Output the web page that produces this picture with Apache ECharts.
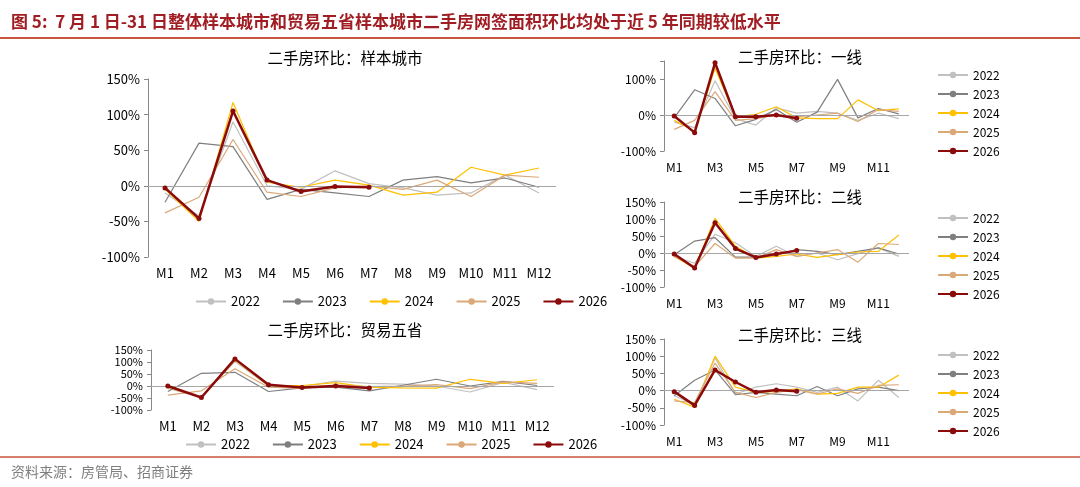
<!DOCTYPE html>
<html><head><meta charset="utf-8">
<script src="https://cdn.jsdelivr.net/npm/echarts@6/dist/echarts.min.js"></script>
<style>html,body{margin:0;padding:0;background:#fff}#c{width:1080px;height:487px}</style>
</head><body><div id="c"></div>
<script>
const months = ['M1','M2','M3','M4','M5','M6','M7','M8','M9','M10','M11','M12'];
const years = ['2022','2023','2024','2025','2026'];

// 样本城市
const cityY2022 = [-10,-42,90,0,-5,21,3,-3,-13,-10,15,-10];
const cityY2023 = [-23,60,55,-19,-5,-10,-15,8,13,4,11,-2];
const cityY2024 = [-5,-50,117,5,-2,8,1,-13,-9,26,15,25];
const cityY2025 = [-38,-16,65,-9,-15,-3,0,-5,8,-15,15,12];
const cityY2026 = [-3,-46,105,8,-8,-1,-2];
// 贸易五省
const tradeY2022 = [-10,-45,102,0,-2,20,11,8,0,-25,15,-15];
const tradeY2023 = [-23,53,57,-23,-8,-5,-20,3,28,0,19,2];
const tradeY2024 = [-5,-48,108,2,2,14,-6,-8,-9,28,11,26];
const tradeY2025 = [-38,-20,72,-5,-10,5,-3,0,6,-11,17,11];
const tradeY2026 = [0,-48,113,5,-6,0,-8];
// 一线
const t1Y2022 = [-20,-35,95,-10,-28,20,5,10,5,-15,5,-10];
const t1Y2023 = [-8,70,46,-30,-12,15,-20,8,99,-8,18,3];
const t1Y2024 = [-15,-45,130,-5,2,23,-8,-10,-10,42,12,17];
const t1Y2025 = [-40,-15,65,-15,-10,0,-5,0,5,-18,15,10];
const t1Y2026 = [-3,-49,145,-5,-5,0,-9];
// 二线
const t2Y2022 = [-10,-30,55,30,-10,20,-10,0,-20,-2,15,-10];
const t2Y2023 = [-5,35,45,-12,-12,-5,10,5,-5,5,15,-3];
const t2Y2024 = [-10,-45,102,20,-15,-10,-3,-13,-5,3,5,53];
const t2Y2025 = [-10,-40,28,-15,-15,10,-10,0,10,-27,28,25];
const t2Y2026 = [-3,-44,89,13,-13,-3,7];
// 三线
const t3Y2022 = [-15,-40,95,-10,10,20,10,-5,10,-30,30,-20];
const t3Y2023 = [-15,30,60,-12,-5,-10,-15,12,-15,5,10,0];
const t3Y2024 = [-25,-48,100,10,-5,-2,5,-10,-8,10,10,45];
const t3Y2025 = [-30,-35,80,-5,-20,-5,3,-10,5,-8,15,17];
const t3Y2026 = [-3,-43,60,25,-5,2,-2];

const colors = {'2022':'#c0c0c0','2023':'#7f7f7f','2024':'#ffc000','2025':'#dba878','2026':'#8b0a0a'};
const font = '"Noto Sans CJK SC", sans-serif';

const panels = [
	{title:'二手房环比：样本城市', data:[cityY2022,cityY2023,cityY2024,cityY2025,cityY2026],
	 grid:{left:148,top:79,width:408,height:178}, interval:50, tx:340, ty:45, labelEvery:0, fs:13},
	{title:'二手房环比：贸易五省', data:[tradeY2022,tradeY2023,tradeY2024,tradeY2025,tradeY2026],
	 grid:{left:151,top:350,width:403,height:60}, interval:50, tx:340, ty:317, labelEvery:0, fs:13, yfs:11},
	{title:'二手房环比：一线', data:[t1Y2022,t1Y2023,t1Y2024,t1Y2025,t1Y2026],
	 grid:{left:664,top:61,width:245,height:90}, interval:100, tx:795, ty:44, labelEvery:1, fs:12, hide150:true},
	{title:'二手房环比：二线', data:[t2Y2022,t2Y2023,t2Y2024,t2Y2025,t2Y2026],
	 grid:{left:664,top:202,width:245,height:85}, interval:50, tx:795, ty:184, labelEvery:1, fs:12},
	{title:'二手房环比：三线', data:[t3Y2022,t3Y2023,t3Y2024,t3Y2025,t3Y2026],
	 grid:{left:664,top:339,width:245,height:86}, interval:50, tx:795, ty:322, labelEvery:1, fs:12}
];

const option = {
	animation:false,
	textStyle:{fontFamily:font},
	title:[{text:'图 5:  7 月 1 日-31 日整体样本城市和贸易五省样本城市二手房网签面积环比均处于近 5 年同期较低水平',
		left:6, top:8, textStyle:{fontSize:17, fontWeight:'bold', color:'#a01e23', fontFamily:font}},
		{text:'资料来源：房管局、招商证券', left:6, top:460, textStyle:{fontSize:14, fontWeight:'normal', color:'#7f7f7f', fontFamily:font}}],
	graphic:[
		{type:'line', shape:{x1:0,y1:38,x2:1080,y2:38}, style:{stroke:'#c8553d', lineWidth:2}},
		{type:'line', shape:{x1:0,y1:457,x2:1080,y2:457}, style:{stroke:'#c8553d', lineWidth:1.5}}
	],
	grid:[], xAxis:[], yAxis:[], series:[], legend:[]
};

panels.forEach((p, i) =>
{
	option.title.push({text:p.title, left:p.tx, top:p.ty, textAlign:'center',
		textStyle:{fontSize:15.5, fontWeight:'normal', color:'#000', fontFamily:font}});
	option.grid.push(p.grid);
	option.xAxis.push({type:'category', gridIndex:i, data:months, axisLine:{show:false}, axisTick:{show:false},
		axisLabel:{color:'#000', fontSize:p.fs, interval:p.labelEvery, margin:10}});
	option.yAxis.push({type:'value', gridIndex:i, min:-100, max:150, interval:p.interval,
		axisLine:{show:true, lineStyle:{color:'#888'}}, axisTick:{show:true, length:4, lineStyle:{color:'#888'}},
		splitLine:{show:false},
		axisLabel:{color:'#000', fontSize:p.yfs || p.fs, hideOverlap:false, showMinLabel:true, showMaxLabel:true,
			formatter:v => (p.hide150 && v === 150) ? '' : v + '%'}});
	years.forEach((y, k) =>
	{
		const is26 = y === '2026';
		const s = {name:y, type:'line', xAxisIndex:i, yAxisIndex:i, data:p.data[k],
			symbol:is26 ? 'circle' : 'none', symbolSize:5, z:is26 ? 5 : 2,
			lineStyle:{width:is26 ? 2.5 : 1.2, color:colors[y]}, itemStyle:{color:colors[y]}};
		if (k === 0)
			s.markLine = {silent:true, symbol:'none', label:{show:false},
				lineStyle:{color:'#a6a6a6', type:'solid', width:1}, data:[{yAxis:0}]};
		option.series.push(s);
	});
});

option.legend.push({data:years, left:190, top:290, itemWidth:30, itemHeight:8, itemGap:22,
	textStyle:{fontSize:13, color:'#000'}});
option.legend.push({data:years, left:180, top:433, itemWidth:30, itemHeight:8, itemGap:22,
	textStyle:{fontSize:13, color:'#000'}});
[64, 207, 344].forEach(t => option.legend.push({data:years, orient:'vertical', left:932, top:t,
	itemWidth:30, itemHeight:8, itemGap:7, textStyle:{fontSize:12, color:'#000'}}));

const chart = echarts.init(document.getElementById('c'));
chart.setOption(option);
</script>
</body></html>
